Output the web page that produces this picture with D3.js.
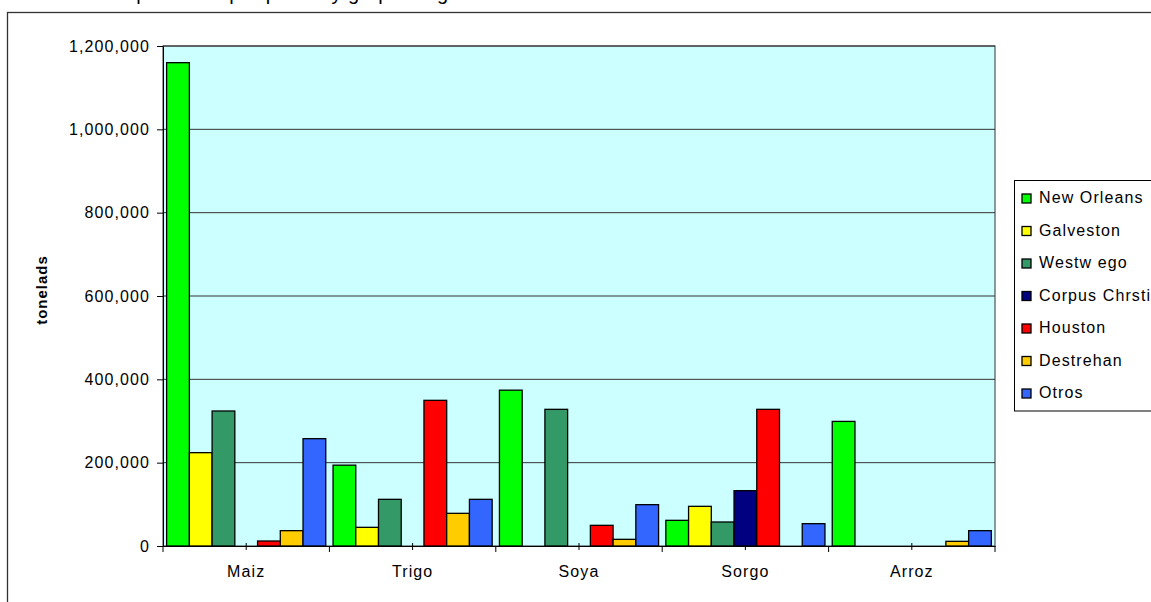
<!DOCTYPE html>
<html><head><meta charset="utf-8">
<script src="https://cdn.jsdelivr.net/npm/d3@7"></script>
<style>body{margin:0;background:#fff;}svg{display:block;font-family:"Liberation Sans",Arial,sans-serif;}</style>
</head><body>
<svg id="c" width="1151" height="602"></svg>
<script>
const categories = ["Maiz","Trigo","Soya","Sorgo","Arroz"];
const seriesNames = ["New  Orleans","Galveston","Westw ego","Corpus Chrsti","Houston","Destrehan","Otros"];
const seriesColors = ["#00FF00","#FFFF00","#339966","#000080","#FF0000","#FFCC00","#3366FF"];
const newOrleans = [1160000,194000,374000,61600,299000];
const galveston  = [224000,44800,0,95200,0];
const westwego   = [324000,112000,328000,57600,0];
const corpus     = [0,0,0,132800,0];
const houston    = [12000,349600,49600,328000,0];
const destrehan  = [36800,78400,16000,0,11200];
const otros      = [257600,112000,99200,53600,36800];
const seriesValues = [newOrleans,galveston,westwego,corpus,houston,destrehan,otros];
const yTicks = [0,200000,400000,600000,800000,1000000,1200000];
const yTitle = "tonelads";
const title = "Exportación por puerto y grupo de granos";

const svg = d3.select("#c");
const L=163,R=995,T=46,B=546;
const FONT = "Liberation Sans, Arial, sans-serif";

// outer border
svg.append("rect").attr("x",7.5).attr("y",12.5).attr("width",1160).attr("height",620)
  .attr("fill","#fff").attr("stroke","#333").attr("stroke-width",1.3);
// title (cut off at the top edge as in the source image; only descenders show)
svg.append("text").attr("x",112).attr("y",0).attr("font-size",20).attr("letter-spacing",0.5)
  .attr("fill","#000").text(title);

const x = d3.scaleBand().domain(categories).range([L,R]).paddingInner(0).paddingOuter(0);
const xs = d3.scaleBand().domain(seriesNames).range([0,x.bandwidth()]).paddingInner(0).paddingOuter(0.16);
const y = d3.scaleLinear().domain([0,1200000]).range([B,T]);

svg.append("rect").attr("x",L).attr("y",T).attr("width",R-L).attr("height",B-T)
  .attr("fill","#CCFFFF").attr("stroke","#333").attr("stroke-width",1);

// gridlines
svg.append("g").selectAll("line").data(yTicks.filter(d=>d>0)).join("line")
  .attr("x1",L).attr("x2",R).attr("y1",d=>y(d)).attr("y2",d=>y(d))
  .attr("stroke","#333").attr("stroke-width",1);

// bars
const g = svg.append("g");
categories.forEach((c,ci)=>{
  seriesNames.forEach((s,si)=>{
    const v = seriesValues[si][ci];
    if(v<=0) return;
    g.append("rect").attr("x",x(c)+xs(s)).attr("y",y(v)).attr("width",xs.bandwidth()).attr("height",y(0)-y(v))
      .attr("fill",seriesColors[si]).attr("stroke","#000").attr("stroke-width",1.3);
  });
});

// y axis
const ya = svg.append("g").attr("transform",`translate(${L},0)`)
  .call(d3.axisLeft(y).tickValues(yTicks).tickSize(6).tickPadding(7).tickFormat(d3.format(",")));
ya.selectAll("text").attr("font-size",16).attr("letter-spacing",1.1).attr("fill","#000").attr("font-family",FONT);
ya.selectAll("line").attr("stroke","#000");
ya.select(".domain").attr("stroke","#000");

// x axis
const xa = svg.append("g").attr("transform",`translate(0,${B})`)
  .call(d3.axisBottom(x).tickSize(0).tickPadding(20));
xa.selectAll("text").attr("font-size",16).attr("letter-spacing",1.1).attr("fill","#000").attr("font-family",FONT);
xa.select(".domain").attr("stroke","#000");
// boundary ticks
const bounds = categories.map(c=>x(c)).concat([x(categories[categories.length-1])+x.bandwidth()]);
svg.append("g").selectAll("line").data(bounds).join("line")
  .attr("x1",d=>d).attr("x2",d=>d).attr("y1",B).attr("y2",B+6).attr("stroke","#000");
// center ticks
svg.append("g").selectAll("line").data(categories).join("line")
  .attr("x1",d=>x(d)+x.bandwidth()/2).attr("x2",d=>x(d)+x.bandwidth()/2).attr("y1",B-3).attr("y2",B+4).attr("stroke","#000");

// y title
svg.append("text").attr("transform",`translate(47,290) rotate(-90)`).attr("text-anchor","middle")
  .attr("font-size",15).attr("font-weight","bold").attr("letter-spacing",1).text(yTitle);

// legend
const lg = svg.append("g");
lg.append("rect").attr("x",1014.5).attr("y",180.5).attr("width",200).attr("height",230.5)
  .attr("fill","#fff").attr("stroke","#000").attr("stroke-width",1);
seriesNames.forEach((s,i)=>{
  const base = 203 + i*32.5;
  lg.append("rect").attr("x",1022).attr("y",base-9).attr("width",9).attr("height",9)
    .attr("fill",seriesColors[i]).attr("stroke","#000").attr("stroke-width",1.3);
  lg.append("text").attr("x",1039).attr("y",base).attr("font-size",16).attr("letter-spacing",1.1).text(s);
});
</script>
</body></html>
